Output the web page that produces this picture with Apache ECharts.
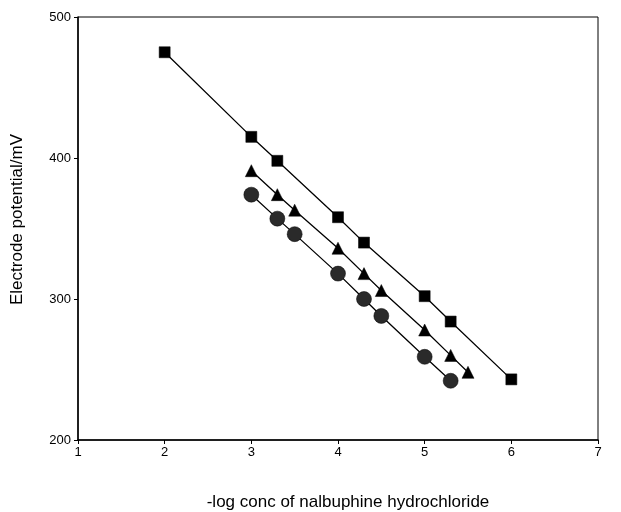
<!DOCTYPE html>
<html>
<head>
<meta charset="utf-8">
<script src="https://cdn.jsdelivr.net/npm/echarts@6/dist/echarts.min.js"></script>
<style>
  html, body { margin: 0; padding: 0; background: #fff; }
  #chart { width: 621px; height: 512px; }
</style>
</head>
<body>
<div id="chart"></div>
<script>
// -log conc values and electrode potentials (mV) for each electrode
const squareX = [2, 3, 3.3, 4, 4.3, 5, 5.3, 6];
const squareY = [475, 415, 398, 358, 340, 302, 284, 243];
const triangleX = [3, 3.3, 3.5, 4, 4.3, 4.5, 5, 5.3, 5.5];
const triangleY = [391, 374, 363, 336, 318, 306, 278, 260, 248];
const circleX = [3, 3.3, 3.5, 4, 4.3, 4.5, 5, 5.3];
const circleY = [374, 357, 346, 318, 300, 288, 259, 242];

const zip = (xs, ys) => xs.map((x, i) => [x, ys[i]]);

const chart = echarts.init(document.getElementById("chart"));
const font = "Liberation Sans, Arial, sans-serif";

function lineSeries(data, symbol, size, color) {
  return {
    type: "line",
    data: data,
    symbol: symbol,
    symbolSize: size,
    lineStyle: { color: "#000", width: 1.3 },
    itemStyle: { color: color, borderColor: "#000", borderWidth: 0.5 },
    animation: false,
  };
}

const option = {
  backgroundColor: "#fff",
  grid: {
    left: 78, right: 23, top: 17, bottom: 72,
    outerBoundsMode: "none",
    show: true, borderColor: "#000", borderWidth: 1,
  },
  xAxis: {
    type: "value",
    min: 1, max: 7, interval: 1,
    name: "-log conc of nalbuphine hydrochloride",
    nameLocation: "middle",
    nameGap: 54,
    nameTextStyle: { fontFamily: font, fontSize: 17, color: "#000", padding: [0, 0, 0, 20] },
    axisLine: { lineStyle: { color: "#000", width: 1.5 } },
    axisTick: { lineStyle: { color: "#000" }, length: 4 },
    axisLabel: { fontFamily: font, fontSize: 13, color: "#000", margin: 6 },
    splitLine: { show: false },
  },
  yAxis: {
    type: "value",
    min: 200, max: 500, interval: 100,
    name: "Electrode potential/mV",
    nameLocation: "middle",
    nameGap: 52,
    nameTextStyle: { fontFamily: font, fontSize: 17, color: "#000", padding: [0, 0, 0, 18] },
    axisLine: { lineStyle: { color: "#000", width: 1.5 } },
    axisTick: { lineStyle: { color: "#000" }, length: 4 },
    axisLabel: { fontFamily: font, fontSize: 13, color: "#000", margin: 7 },
    splitLine: { show: false },
  },
  series: [
    lineSeries(zip(squareX, squareY), "rect", 11, "#000"),
    lineSeries(zip(triangleX, triangleY), "triangle", 12, "#000"),
    lineSeries(zip(circleX, circleY), "circle", 15, "#2a2a2a"),
  ],
};

chart.setOption(option);
</script>
</body>
</html>
